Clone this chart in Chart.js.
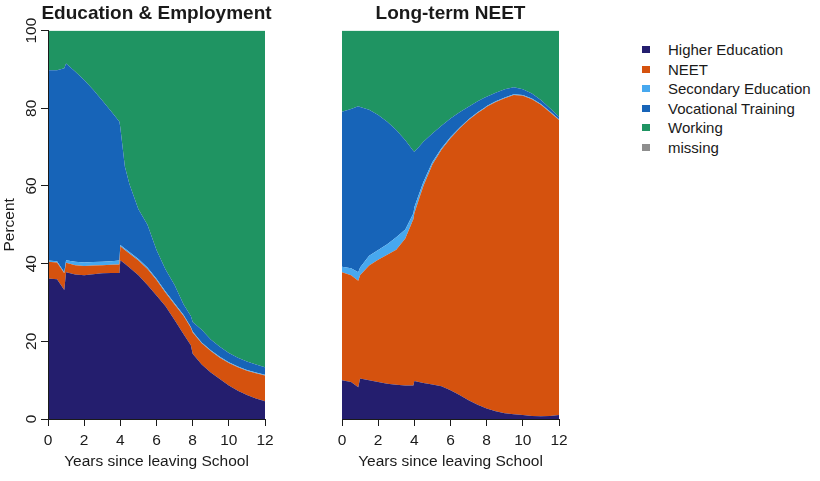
<!DOCTYPE html>
<html>
<head>
<meta charset="utf-8">
<script src="https://cdn.jsdelivr.net/npm/chart.js@4.4.1/dist/chart.umd.min.js"></script>
<style>
  html, body { margin: 0; padding: 0; background: #fff; }
  #wrap { position: relative; width: 820px; height: 481px; overflow: hidden; }
  canvas { position: absolute; top: 0; }
  #cLeft { left: 0; }
  #cRight { left: 294px; }
  #legend { position: absolute; left: 641px; top: 40px; font-family: 'Liberation Sans', Arial, sans-serif; font-size: 15px; color: #1a1a1a; }
  .row { position: relative; height: 19.6px; line-height: 19.6px; white-space: nowrap; }
  .sw { position: absolute; left: 1px; top: 6px; width: 8px; height: 7px; }
  .lab { position: absolute; left: 27px; top: 0; }
</style>
</head>
<body>
<div id="wrap">
  <canvas id="cLeft" width="313" height="481"></canvas>
  <canvas id="cRight" width="313" height="481"></canvas>
  <div id="legend"></div>
</div>
<script>
// years since leaving school
const years = [0, 0.5, 0.9, 1, 1.5, 2, 2.5, 3, 3.5, 3.95, 4, 4.25, 4.5, 5, 5.5, 6, 6.5, 7, 7.5, 7.9, 8, 8.5, 9, 9.5, 10, 10.5, 11, 11.5, 12];

const labels = ["Higher Education", "NEET", "Secondary Education", "Vocational Training", "Working", "missing"];
const colors = ["#241e6e", "#d5520e", "#47a8ef", "#1764b8", "#1f9462", "#8e8e8e"];

// Education & Employment (percent)
const higherEE = [36.2, 36.0, 33.2, 37.8, 37.2, 37.0, 37.3, 37.5, 37.6, 37.6, 40.9, 40.0, 39.0, 37.0, 34.5, 31.8, 29.0, 25.5, 21.8, 19.0, 16.8, 14.0, 12.0, 10.3, 8.6, 7.3, 6.2, 5.3, 4.6];
const neetEE = [4.3, 4.3, 4.3, 2.4, 2.4, 2.4, 2.2, 2.1, 2.1, 2.2, 3.6, 3.5, 3.6, 3.8, 4.1, 4.0, 3.5, 4.0, 4.7, 4.5, 5.5, 5.5, 5.5, 5.5, 5.8, 6.0, 6.2, 6.5, 6.6];
const secEE = [0.3, 0.3, 0.3, 0.7, 0.9, 0.9, 0.9, 0.9, 0.9, 1.0, 0.3, 0.4, 0.4, 0.4, 0.4, 0.3, 0.3, 0.3, 0.3, 0.2, 0.2, 0.2, 0.2, 0.2, 0.2, 0.2, 0.2, 0.2, 0.2];
const vocEE = [49.0, 49.2, 52.5, 50.6, 49.0, 47.0, 44.4, 41.5, 38.6, 35.7, 30.2, 21.1, 17.5, 12.8, 11.0, 7.4, 5.7, 4.7, 2.7, 2.8, 2.5, 3.3, 2.8, 2.6, 2.4, 2.3, 2.2, 2.0, 1.9];
const workEE = [10.2, 10.2, 9.7, 8.5, 10.5, 12.7, 15.2, 18.0, 20.8, 23.5, 25.0, 35.0, 39.5, 46.0, 50.0, 56.5, 61.5, 65.5, 70.5, 73.5, 75.0, 77.0, 79.5, 81.4, 83.0, 84.2, 85.2, 86.0, 86.7];
const missEE = [0, 0, 0, 0, 0, 0, 0, 0, 0, 0, 0, 0, 0, 0, 0, 0, 0, 0, 0, 0, 0, 0, 0, 0, 0, 0, 0, 0, 0];

// Long-term NEET (percent)
const higherLT = [10.0, 9.5, 8.2, 10.4, 10.0, 9.5, 9.1, 8.8, 8.6, 8.6, 9.8, 9.5, 9.3, 8.9, 8.4, 7.4, 6.2, 4.8, 3.7, 2.9, 2.7, 2.0, 1.5, 1.2, 1.0, 0.8, 0.7, 0.8, 1.0];
const neetLT = [27.8, 27.5, 27.4, 26.6, 29.5, 31.5, 33.2, 34.8, 37.9, 42.9, 43.2, 47.0, 50.7, 56.6, 60.9, 64.9, 68.6, 72.2, 75.1, 77.1, 77.7, 79.6, 81.1, 82.2, 82.2, 81.5, 80.2, 78.2, 76.0];
const secLT = [1.4, 1.8, 2.2, 2.0, 2.5, 2.5, 2.7, 3.2, 2.3, 1.5, 1.5, 1.3, 1.0, 0.7, 0.4, 0.3, 0.2, 0.2, 0.2, 0.2, 0.2, 0.2, 0.2, 0.2, 0.2, 0.2, 0.2, 0.2, 0.2];
const vocLT = [39.9, 41.0, 42.7, 41.3, 37.6, 34.8, 31.5, 27.6, 23.0, 16.0, 14.3, 12.2, 10.4, 7.3, 5.8, 4.8, 4.0, 3.2, 2.8, 2.6, 2.4, 2.2, 2.1, 1.8, 1.5, 1.3, 1.0, 0.8, 0.6];
const workLT = [20.9, 20.2, 19.5, 19.7, 20.4, 21.7, 23.5, 25.6, 28.2, 31.0, 31.2, 30.0, 28.6, 26.5, 24.5, 22.6, 21.0, 19.6, 18.2, 17.2, 17.0, 16.0, 15.1, 14.6, 15.1, 16.2, 17.9, 20.0, 22.2];
const missLT = [0, 0, 0, 0, 0, 0, 0, 0, 0, 0, 0, 0, 0, 0, 0, 0, 0, 0, 0, 0, 0, 0, 0, 0, 0, 0, 0, 0, 0];

const xTicks = [0, 2, 4, 6, 8, 10, 12];
const yTicks = [0, 20, 40, 60, 80, 100];

Chart.defaults.font.family = "'Liberation Sans', Arial, sans-serif";
Chart.defaults.color = "#1a1a1a";

const ink = "#1a1a1a";

function makeDatasets(series) {
    return series.map((vals, i) => ({
        label: labels[i],
        data: vals.map((v, j) => ({ x: years[j], y: v })),
        backgroundColor: colors[i],
        borderColor: colors[i],
        borderWidth: 0,
        pointRadius: 0,
        tension: 0,
        fill: i === 0 ? "origin" : "-1",
    }));
}

function makeConfig(title, series, withYAxis) {
    return {
        type: "line",
        data: { datasets: makeDatasets(series) },
        options: {
            responsive: false,
            animation: false,
            events: [],
            layout: { padding: 0 },
            plugins: {
                legend: { display: false },
                tooltip: { enabled: false },
                title: {
                    display: true,
                    text: title,
                    color: ink,
                    font: { size: 19, weight: "bold", lineHeight: 1.2 },
                    padding: { top: 2.3, bottom: 5.5 },
                },
            },
            scales: {
                x: {
                    type: "linear",
                    min: 0,
                    max: 12,
                    afterBuildTicks: (s) => { s.ticks = xTicks.map((v) => ({ value: v })); },
                    afterFit: (s) => { s.height = 62; },
                    grid: { drawOnChartArea: false, drawTicks: true, tickLength: 7, color: ink, z: 1 },
                    border: { display: true, color: ink, width: 1, z: 1 },
                    ticks: { color: ink, font: { size: 15.5 }, padding: 5.5, maxRotation: 0 },
                    title: {
                        display: true,
                        text: "Years since leaving School",
                        color: ink,
                        font: { size: 15.5, lineHeight: 1.2 },
                        padding: { top: 0, bottom: 9.7 },
                    },
                },
                y: {
                    display: withYAxis,
                    stacked: true,
                    min: 0,
                    max: 100,
                    afterBuildTicks: (s) => { s.ticks = yTicks.map((v) => ({ value: v })); },
                    afterFit: (s) => { s.width = 48; },
                    grid: { drawOnChartArea: false, drawTicks: true, tickLength: 7, color: ink, z: 1 },
                    border: { display: true, color: ink, width: 1, z: 1 },
                    ticks: { color: ink, font: { size: 15.5 }, padding: -3.5, minRotation: 90, maxRotation: 90, crossAlign: "center" },
                    title: {
                        display: true,
                        text: "Percent",
                        color: ink,
                        font: { size: 15.5, lineHeight: 1.2 },
                        padding: { top: 0.5, bottom: 0 },
                    },
                },
                // empty right-hand scale that only reserves the right margin
                yRight: {
                    type: "linear",
                    position: "right",
                    display: false,
                    afterFit: (s) => { s.width = 48; },
                },
            },
        },
    };
}

new Chart(document.getElementById("cLeft"),
    makeConfig("Education & Employment", [higherEE, neetEE, secEE, vocEE, workEE, missEE], true));
new Chart(document.getElementById("cRight"),
    makeConfig("Long-term NEET", [higherLT, neetLT, secLT, vocLT, workLT, missLT], false));

// legend
const legend = document.getElementById("legend");
labels.forEach((name, i) => {
    const row = document.createElement("div");
    row.className = "row";
    row.innerHTML = '<span class="sw" style="background:' + colors[i] + '"></span><span class="lab">' + name + "</span>";
    legend.appendChild(row);
});
</script>
</body>
</html>
